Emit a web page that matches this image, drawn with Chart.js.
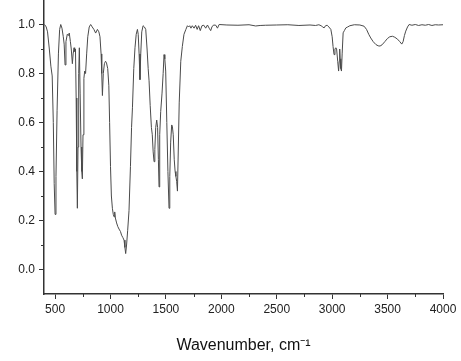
<!DOCTYPE html>
<html>
<head>
<meta charset="utf-8">
<script src="https://cdn.jsdelivr.net/npm/chart.js@4/dist/chart.umd.min.js"></script>
<style>
  body { margin: 0; background: #fff; }
  canvas { display: block; }
</style>
</head>
<body>
<canvas id="chart" width="461" height="361"></canvas>
<script>
// IR spectrum, values
let wavenumbers = [
  405, 420, 432, 448, 462, 474, 484, 492, 500, 508, 518, 530, 541, 551, 562, 574, 582, 590, 598, 610,
  620, 628, 638, 646, 656, 663, 671, 677, 684, 690, 696, 701, 707, 713, 719, 726, 734, 741, 746, 752,
  760, 767, 775, 785, 795, 808, 821, 835, 850, 866, 882, 895, 905, 915, 921, 927, 935, 945, 955, 963,
  975, 985, 992, 1000, 1008, 1017, 1025, 1032, 1038, 1044, 1055, 1066, 1077, 1090, 1100, 1112, 1122, 1130, 1137, 1145,
  1155, 1167, 1180, 1190, 1198, 1210, 1221, 1232, 1243, 1250, 1258, 1266, 1273, 1282, 1294, 1306, 1318, 1330, 1340, 1348,
  1358, 1369, 1377, 1385, 1393, 1400, 1408, 1417, 1425, 1432, 1438, 1444, 1453, 1465, 1475, 1483, 1490, 1498, 1508, 1518,
  1528, 1535, 1543, 1552, 1558, 1566, 1575, 1583, 1590, 1597, 1604, 1612, 1620, 1634, 1648, 1663, 1680, 1694, 1705, 1715,
  1726, 1738, 1754, 1768, 1782, 1795, 1810, 1825, 1842, 1859, 1875, 1890, 1904, 1915, 1930, 1950, 1965, 1980, 2050, 2150,
  2250, 2310, 2350, 2400, 2500, 2600, 2700, 2800, 2850, 2880, 2900, 2915, 2927, 2940, 2955, 2970, 2988, 3000, 3008, 3017,
  3025, 3033, 3040, 3050, 3058, 3064, 3068, 3072, 3078, 3084, 3090, 3099, 3110, 3123, 3140, 3160, 3200, 3250, 3288, 3310,
  3330, 3348, 3370, 3395, 3415, 3432, 3450, 3475, 3499, 3520, 3544, 3565, 3590, 3610, 3628, 3640, 3652, 3664, 3680, 3694,
  3720, 3750, 3780, 3810, 3840, 3870, 3900, 3930, 3960, 4000
];
let transmittance = [
  1.0, 0.99, 0.97, 0.9, 0.83, 0.79, 0.6, 0.35, 0.225, 0.38, 0.65, 0.88, 0.98, 1.0, 0.985, 0.95, 0.92, 0.835, 0.93, 0.96,
  0.955, 0.965, 0.93, 0.9, 0.84, 0.88, 0.905, 0.89, 0.9, 0.7, 0.4, 0.25, 0.5, 0.8, 0.905, 0.72, 0.5, 0.4, 0.37, 0.55,
  0.78, 0.81, 0.8, 0.88, 0.95, 0.99, 1.0, 0.99, 0.98, 0.965, 0.98, 0.97, 0.95, 0.88, 0.8, 0.71, 0.8, 0.84, 0.85, 0.845,
  0.82, 0.75, 0.6, 0.42, 0.3, 0.25, 0.225, 0.215, 0.235, 0.21, 0.19, 0.175, 0.165, 0.155, 0.14, 0.13, 0.12, 0.09, 0.065, 0.1,
  0.16, 0.24, 0.42, 0.58, 0.66, 0.82, 0.905, 0.96, 0.98, 0.96, 0.88, 0.775, 0.88, 0.97, 0.995, 0.99, 0.98, 0.9, 0.82, 0.77,
  0.67, 0.58, 0.55, 0.48, 0.44, 0.49, 0.58, 0.61, 0.58, 0.45, 0.337, 0.55, 0.645, 0.72, 0.8, 0.877, 0.86, 0.81, 0.6, 0.4,
  0.25, 0.38, 0.52, 0.59, 0.585, 0.55, 0.45, 0.4, 0.38, 0.36, 0.32, 0.5, 0.68, 0.85, 0.91, 0.96, 0.98, 0.995, 0.99, 0.995,
  0.985, 0.995, 0.985, 0.997, 0.98, 0.995, 0.975, 0.995, 0.997, 0.985, 0.998, 0.985, 0.975, 0.99, 0.998, 0.997, 0.985, 1.0, 0.998, 0.997,
  0.999, 0.994, 0.996, 0.997, 0.998, 0.999, 0.996, 0.998, 0.996, 0.999, 0.995, 0.99, 0.986, 0.995, 0.997, 0.99, 0.98, 0.95, 0.91, 0.877,
  0.9, 0.905, 0.9, 0.85, 0.81, 0.85, 0.9, 0.86, 0.82, 0.81, 0.88, 0.966, 0.975, 0.986, 0.99, 0.995, 0.999, 0.998, 0.993, 0.98,
  0.96, 0.945, 0.93, 0.918, 0.913, 0.912, 0.917, 0.93, 0.943, 0.95, 0.952, 0.948, 0.94, 0.93, 0.92, 0.93, 0.955, 0.973, 0.99, 1.0,
  0.997, 1.0, 0.996, 0.999, 0.997, 1.0, 0.996, 0.999, 0.998, 0.999
];

let xMajor = [500, 1000, 1500, 2000, 2500, 3000, 3500, 4000];
let xMinor = [750, 1250, 1750, 2250, 2750, 3250, 3750];
let yMajor = [0.0, 0.2, 0.4, 0.6, 0.8, 1.0];
let yMinor = [0.1, 0.3, 0.5, 0.7, 0.9];

Chart.defaults.font.family = "'Liberation Sans', Arial, sans-serif";
Chart.defaults.color = "#222";

// short minor ticks, placed through the scales
let minorTicks = {
    id: "minorTicks",
    afterDraw(chart) {
        let c = chart.ctx;
        let x = chart.scales.x;
        let y = chart.scales.y;
        let area = chart.chartArea;
        c.save();
        c.strokeStyle = "#333";
        c.lineWidth = 1;
        c.beginPath();
        xMinor.forEach(v => {
            let px = Math.round(x.getPixelForValue(v)) + 0.5;
            c.moveTo(px, area.bottom);
            c.lineTo(px, area.bottom + 3);
        });
        yMinor.forEach(v => {
            let py = Math.round(y.getPixelForValue(v)) + 0.5;
            c.moveTo(area.left, py);
            c.lineTo(area.left - 3, py);
        });
        c.stroke();
        c.restore();
    }
};

let points = wavenumbers.map((w, i) => ({ x: w, y: transmittance[i] }));

new Chart(document.getElementById("chart"), {
    type: "line",
    data: {
        datasets: [{
            data: points,
            borderColor: "#4a4a4a",
            borderWidth: 1,
            pointRadius: 0,
            tension: 0
        }]
    },
    options: {
        responsive: false,
        animation: false,
        devicePixelRatio: 1,
        layout: { padding: { top: 0, right: 18, left: 0, bottom: 0 } },
        plugins: {
            legend: { display: false },
            tooltip: { enabled: false }
        },
        scales: {
            x: {
                type: "linear",
                min: 400,
                max: 4000,
                afterBuildTicks: s => { s.ticks = xMajor.map(v => ({ value: v })); },
                afterFit: s => { s.height = 67; s.paddingLeft = 0; },
                ticks: {
                    font: { size: 12 },
                    padding: 3,
                    maxRotation: 0,
                    callback: v => String(v)
                },
                grid: {
                    display: true,
                    drawOnChartArea: false,
                    drawTicks: true,
                    tickLength: 5,
                    tickColor: "#333",
                    tickWidth: 1
                },
                border: { display: true, color: "#333", width: 1.5 },
                title: {
                    display: true,
                    text: "Wavenumber, cm\u207B\u00B9",
                    font: { size: 16 },
                    color: "#111",
                    padding: { top: 0, bottom: 6 }
                }
            },
            y: {
                type: "linear",
                min: -0.1,
                max: 1.1,
                afterBuildTicks: s => { s.ticks = yMajor.map(v => ({ value: v })); },
                afterFit: s => { s.width = 44; s.paddingTop = 0; s.paddingBottom = 0; },
                ticks: {
                    font: { size: 12 },
                    padding: 4,
                    callback: v => v.toFixed(1)
                },
                grid: {
                    display: true,
                    drawOnChartArea: false,
                    drawTicks: true,
                    tickLength: 5,
                    tickColor: "#333",
                    tickWidth: 1
                },
                border: { display: true, color: "#333", width: 1.5 }
            }
        }
    },
    plugins: [minorTicks]
});
</script>
</body>
</html>
